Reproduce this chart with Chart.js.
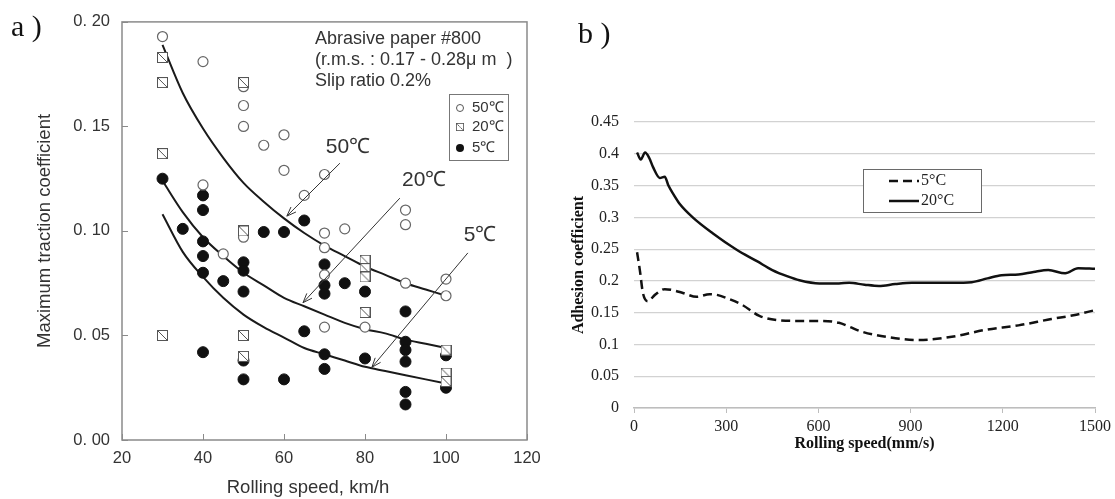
<!DOCTYPE html>
<html>
<head>
<meta charset="utf-8">
<title>Traction and adhesion vs rolling speed</title>
<script src="https://cdn.jsdelivr.net/npm/chart.js@4.4.0/dist/chart.umd.min.js"></script>
<style>
  html, body { margin: 0; padding: 0; background: #fff; }
  #wrap { position: relative; width: 1115px; height: 499px; overflow: hidden; }
  #chartA { position: absolute; left: 0; top: 0; }
  #chartB { position: absolute; left: 557px; top: 0; }
</style>
</head>
<body>
<div id="wrap">
  <canvas id="chartA" width="557" height="499"></canvas>
  <canvas id="chartB" width="558" height="499"></canvas>
</div>
<script>
// ---- panel a: measured maximum traction coefficient (km/h) ----
const A_X_TICKS = [20, 40, 60, 80, 100, 120];
const A_Y_TICKS = [0, 0.05, 0.1, 0.15, 0.2];

const T50_SPEED = [30, 40, 40, 45, 50, 50, 50, 50, 55, 60, 60, 65, 70, 70, 70, 70, 70, 75, 80, 90, 90, 90, 100, 100];
const T50_COEF  = [0.193, 0.181, 0.122, 0.089, 0.169, 0.160, 0.150, 0.097, 0.141, 0.146, 0.129, 0.117, 0.127, 0.099, 0.092, 0.079, 0.054, 0.101, 0.054, 0.110, 0.103, 0.075, 0.077, 0.069];

const T20_SPEED = [30, 30, 30, 30, 50, 50, 50, 50, 80, 80, 80, 80, 100, 100, 100];
const T20_COEF  = [0.183, 0.171, 0.137, 0.050, 0.171, 0.100, 0.050, 0.040, 0.086, 0.082, 0.078, 0.061, 0.043, 0.032, 0.028];

const T5_SPEED = [30, 35, 40, 40, 40, 40, 40, 40, 45, 50, 50, 50, 50, 50, 55, 60, 60, 65, 65, 70, 70, 70, 70, 70, 75, 80, 80, 90, 90, 90, 90, 90, 90, 100, 100];
const T5_COEF  = [0.125, 0.101, 0.117, 0.110, 0.095, 0.088, 0.080, 0.042, 0.076, 0.085, 0.081, 0.071, 0.038, 0.029, 0.0995, 0.0995, 0.029, 0.105, 0.052, 0.084, 0.074, 0.070, 0.041, 0.034, 0.075, 0.071, 0.039, 0.0615, 0.047, 0.043, 0.0375, 0.023, 0.017, 0.0405, 0.025];

// fitted trend curves
const FIT_SPEED = [30, 35, 40, 45, 50, 55, 60, 65, 70, 75, 80, 85, 90, 95, 100];
const FIT_50C = [0.189, 0.166, 0.149, 0.135, 0.123, 0.114, 0.106, 0.099, 0.093, 0.088, 0.083, 0.079, 0.075, 0.072, 0.069];
const FIT_20C = [0.124, 0.109, 0.097, 0.088, 0.080, 0.074, 0.068, 0.064, 0.060, 0.056, 0.053, 0.051, 0.048, 0.046, 0.044];
const FIT_5C  = [0.108, 0.090, 0.078, 0.068, 0.060, 0.054, 0.049, 0.044, 0.041, 0.038, 0.035, 0.033, 0.031, 0.029, 0.027];

// curve call-outs: label anchor, arrow tail, arrow head (data units)
const CALLOUT_TEXT = ['50\u2103', '20\u2103', '5\u2103'];
const CALLOUT_LABEL = [[75.8, 0.140], [94.6, 0.1243], [108.4, 0.098]];
const CALLOUT_TAIL  = [[73.8, 0.1324], [88.6, 0.1157], [105.4, 0.0895]];
const CALLOUT_HEAD  = [[60.7, 0.1071], [64.7, 0.0657], [81.7, 0.0348]];

const A_NOTE = ['Abrasive paper #800', '(r.m.s. : 0.17 - 0.28\u03bc m  )', 'Slip ratio 0.2%'];
const A_LEGEND = ['50\u2103', '20\u2103', '5\u2103'];

// ---- panel b: adhesion coefficient (mm/s) ----
const B_X_TICKS = [0, 300, 600, 900, 1200, 1500];
const B_Y_TICKS = [0, 0.05, 0.1, 0.15, 0.2, 0.25, 0.3, 0.35, 0.4, 0.45];

const A20_SPEED = [10, 22, 36, 50, 62, 84, 100, 112, 130, 149, 191, 256, 334, 400, 450, 500, 538, 603, 667, 700, 750, 797, 850, 904, 970, 1034, 1099, 1150, 1196, 1251, 1300, 1348, 1403, 1445, 1500];
const A20_COEF  = [0.402, 0.391, 0.402, 0.393, 0.379, 0.362, 0.364, 0.350, 0.335, 0.321, 0.300, 0.275, 0.249, 0.231, 0.217, 0.207, 0.201, 0.196, 0.196, 0.197, 0.194, 0.192, 0.195, 0.197, 0.197, 0.197, 0.198, 0.204, 0.209, 0.210, 0.214, 0.217, 0.212, 0.220, 0.219];

const A5_SPEED = [10, 19, 29, 45, 68, 100, 130, 159, 204, 246, 270, 301, 353, 408, 473, 538, 603, 667, 700, 742, 820, 927, 1034, 1144, 1251, 1358, 1430, 1500];
const A5_COEF  = [0.245, 0.217, 0.181, 0.168, 0.178, 0.187, 0.185, 0.181, 0.175, 0.179, 0.178, 0.173, 0.162, 0.145, 0.138, 0.137, 0.137, 0.134, 0.128, 0.120, 0.112, 0.107, 0.112, 0.123, 0.130, 0.140, 0.146, 0.154];

const B_LEGEND = ['5\u00b0C', '20\u00b0C'];

const SANS = '"Liberation Sans", Arial, Helvetica, sans-serif';
const SERIF = '"Liberation Serif", "Times New Roman", serif';

function toPoints(xs, ys) {
  return xs.map((x, i) => ({ x, y: ys[i] }));
}

function hatchedSquare() {
  const c = document.createElement('canvas');
  c.width = 11;
  c.height = 11;
  const g = c.getContext('2d');
  g.fillStyle = '#fff';
  g.fillRect(0, 0, 11, 11);
  g.strokeStyle = '#555';
  g.lineWidth = 1;
  g.strokeRect(0.5, 0.5, 10, 10);
  g.beginPath();
  g.moveTo(1, 1);
  g.lineTo(10, 10);
  g.stroke();
  return c;
}

function arrow(ctx, x1, y1, x2, y2) {
  ctx.beginPath();
  ctx.moveTo(x1, y1);
  ctx.lineTo(x2, y2);
  ctx.stroke();
  const ang = Math.atan2(y2 - y1, x2 - x1);
  const len = 10, spread = 0.36;
  ctx.beginPath();
  ctx.moveTo(x2 - len * Math.cos(ang - spread), y2 - len * Math.sin(ang - spread));
  ctx.lineTo(x2, y2);
  ctx.lineTo(x2 - len * Math.cos(ang + spread), y2 - len * Math.sin(ang + spread));
  ctx.stroke();
}

const squareImg = hatchedSquare();

// frame, inward ticks, call-outs, notes and legend for panel a
const panelADecor = {
  id: 'panelADecor',
  afterDraw(chart) {
    const { ctx, chartArea: ca, scales } = chart;
    const xs = scales.x, ys = scales.y;
    ctx.save();

    ctx.strokeStyle = '#8a8a8a';
    ctx.lineWidth = 1.5;
    ctx.strokeRect(ca.left, ca.top, ca.right - ca.left, ca.bottom - ca.top);
    ctx.lineWidth = 1;
    A_X_TICKS.forEach((v) => {
      const px = Math.round(xs.getPixelForValue(v)) + 0.5;
      ctx.beginPath(); ctx.moveTo(px, ca.bottom); ctx.lineTo(px, ca.bottom - 6); ctx.stroke();
    });
    A_Y_TICKS.forEach((v) => {
      const py = Math.round(ys.getPixelForValue(v)) + 0.5;
      ctx.beginPath(); ctx.moveTo(ca.left, py); ctx.lineTo(ca.left + 6, py); ctx.stroke();
    });

    ctx.strokeStyle = '#333';
    ctx.lineWidth = 1;
    CALLOUT_TAIL.forEach((t, i) => {
      const h = CALLOUT_HEAD[i];
      arrow(ctx, xs.getPixelForValue(t[0]), ys.getPixelForValue(t[1]),
        xs.getPixelForValue(h[0]), ys.getPixelForValue(h[1]));
    });
    ctx.fillStyle = '#333';
    ctx.font = '21px ' + SANS;
    ctx.textAlign = 'center';
    ctx.textBaseline = 'middle';
    CALLOUT_LABEL.forEach((p, i) => {
      ctx.fillText(CALLOUT_TEXT[i], xs.getPixelForValue(p[0]), ys.getPixelForValue(p[1]));
    });

    ctx.textAlign = 'left';
    ctx.font = '18px ' + SANS;
    A_NOTE.forEach((line, i) => ctx.fillText(line, 315, 39 + i * 21));

    // legend
    ctx.strokeStyle = '#777';
    ctx.lineWidth = 1;
    ctx.strokeRect(449.5, 94.5, 59, 66);
    ctx.font = '15px ' + SANS;
    const rows = [108, 127, 148];
    A_LEGEND.forEach((t, i) => ctx.fillText(t, 472, rows[i]));
    ctx.lineWidth = 1;
    ctx.strokeStyle = '#555';
    ctx.fillStyle = '#fff';
    ctx.beginPath(); ctx.arc(460, rows[0], 3.5, 0, Math.PI * 2); ctx.fill(); ctx.stroke();
    ctx.drawImage(squareImg, 0, 0, 11, 11, 456, rows[1] - 4, 8, 8);
    ctx.fillStyle = '#111';
    ctx.beginPath(); ctx.arc(460, rows[2], 4, 0, Math.PI * 2); ctx.fill();

    // x-axis title and panel letter
    ctx.fillStyle = '#333';
    ctx.font = '18.5px ' + SANS;
    ctx.textAlign = 'center';
    ctx.fillText('Rolling speed, km/h', 308, 488);
    ctx.fillStyle = '#111';
    ctx.font = '30px ' + SERIF;
    ctx.textAlign = 'left';
    ctx.fillText('a )', 11, 28);
    ctx.restore();
  },
};

new Chart(document.getElementById('chartA'), {
  type: 'scatter',
  data: {
    datasets: [
      {
        data: toPoints(T20_SPEED, T20_COEF),
        pointStyle: squareImg,
        order: 0,
      },
      {
        data: toPoints(T50_SPEED, T50_COEF),
        pointStyle: 'circle',
        pointRadius: 5,
        backgroundColor: '#fff',
        borderColor: '#666',
        borderWidth: 1.2,
        order: 1,
      },
      {
        data: toPoints(T5_SPEED, T5_COEF),
        pointStyle: 'circle',
        pointRadius: 5.5,
        backgroundColor: '#111',
        borderColor: '#111',
        borderWidth: 1,
        order: 2,
      },
      ...[FIT_50C, FIT_20C, FIT_5C].map((ys) => ({
        data: toPoints(FIT_SPEED, ys),
        showLine: true,
        pointRadius: 0,
        borderColor: '#1a1a1a',
        borderWidth: 2,
        cubicInterpolationMode: 'monotone',
        order: 3,
      })),
    ],
  },
  options: {
    responsive: false,
    animation: false,
    events: [],
    layout: { padding: { left: 0, right: 30, top: 20, bottom: 0 } },
    plugins: { legend: { display: false }, tooltip: { enabled: false } },
    scales: {
      x: {
        type: 'linear',
        min: 20,
        max: 120,
        afterBuildTicks: (s) => { s.ticks = A_X_TICKS.map((v) => ({ value: v })); },
        afterFit: (s) => { s.height = 59; },
        grid: { display: false, drawTicks: false },
        border: { display: false },
        ticks: { color: '#333', font: { family: SANS, size: 16.5 }, padding: 9, maxRotation: 0 },
      },
      y: {
        type: 'linear',
        min: 0,
        max: 0.2,
        afterBuildTicks: (s) => { s.ticks = A_Y_TICKS.map((v) => ({ value: v })); },
        afterFit: (s) => { s.width = 122; },
        grid: { display: false, drawTicks: false },
        border: { display: false },
        ticks: {
          color: '#333',
          font: { family: SANS, size: 16.5 },
          padding: 12,
          callback: (v) => Number(v).toFixed(2).replace('.', '. '),
        },
        title: {
          display: true,
          text: 'Maximum traction coefficient',
          color: '#333',
          font: { family: SANS, size: 18.5 },
          padding: { top: 34, bottom: 0 },
        },
      },
    },
  },
  plugins: [panelADecor],
});

// in-plot legend and panel letter for panel b
const panelBDecor = {
  id: 'panelBDecor',
  afterDraw(chart) {
    const { ctx } = chart;
    ctx.save();
    ctx.strokeStyle = '#6a6a6a';
    ctx.lineWidth = 1;
    ctx.fillStyle = '#fff';
    ctx.fillRect(306, 169, 118, 43);
    ctx.strokeRect(306.5, 169.5, 118, 43);
    const rows = [181, 201];
    chart.data.datasets.forEach((ds, i) => {
      ctx.strokeStyle = '#111';
      ctx.lineWidth = 2.5;
      ctx.setLineDash(ds.borderDash || []);
      ctx.beginPath();
      ctx.moveTo(332, rows[i]);
      ctx.lineTo(362, rows[i]);
      ctx.stroke();
    });
    ctx.setLineDash([]);
    ctx.fillStyle = '#222';
    ctx.font = '16px ' + SERIF;
    ctx.textAlign = 'left';
    ctx.textBaseline = 'middle';
    B_LEGEND.forEach((t, i) => ctx.fillText(t, 364, rows[i]));
    ctx.fillStyle = '#111';
    ctx.font = '30px ' + SERIF;
    ctx.fillText('b )', 21, 35);
    ctx.restore();
  },
};

new Chart(document.getElementById('chartB'), {
  type: 'scatter',
  data: {
    datasets: [
      {
        label: B_LEGEND[0],
        data: toPoints(A5_SPEED, A5_COEF),
        showLine: true,
        pointRadius: 0,
        borderColor: '#111',
        borderWidth: 2.5,
        borderDash: [9, 5],
        cubicInterpolationMode: 'monotone',
      },
      {
        label: B_LEGEND[1],
        data: toPoints(A20_SPEED, A20_COEF),
        showLine: true,
        pointRadius: 0,
        borderColor: '#111',
        borderWidth: 2.5,
        cubicInterpolationMode: 'monotone',
      },
    ],
  },
  options: {
    responsive: false,
    animation: false,
    events: [],
    layout: { padding: { left: 0, right: 18, top: 122, bottom: 0 } },
    plugins: { legend: { display: false }, tooltip: { enabled: false } },
    scales: {
      x: {
        type: 'linear',
        min: 0,
        max: 1500,
        afterBuildTicks: (s) => { s.ticks = B_X_TICKS.map((v) => ({ value: v })); },
        afterFit: (s) => { s.height = 91; },
        grid: { display: true, drawOnChartArea: false, drawTicks: true, tickLength: 5, color: '#bdbdbd' },
        border: { display: true, color: '#bdbdbd', width: 1.5 },
        ticks: {
          color: '#222',
          font: { family: SERIF, size: 16 },
          padding: 4,
          maxRotation: 0,
          callback: (v) => String(v),
        },
        title: {
          display: true,
          text: 'Rolling speed(mm/s)',
          color: '#111',
          font: { family: SERIF, size: 16, weight: 'bold' },
          padding: { top: 0, bottom: 46 },
        },
      },
      y: {
        type: 'linear',
        min: 0,
        max: 0.45,
        afterBuildTicks: (s) => { s.ticks = B_Y_TICKS.map((v) => ({ value: v })); },
        afterFit: (s) => { s.width = 77; },
        grid: { display: true, drawTicks: false, color: '#d2d2d2', lineWidth: 1.2 },
        border: { display: false },
        ticks: {
          color: '#222',
          font: { family: SERIF, size: 16 },
          padding: 15,
          callback: (v) => String(Number(Number(v).toFixed(2))),
        },
        title: {
          display: true,
          text: 'Adhesion coefficient',
          color: '#111',
          font: { family: SERIF, size: 16, weight: 'bold' },
          padding: { top: 12, bottom: 0 },
        },
      },
    },
  },
  plugins: [panelBDecor],
});
</script>
</body>
</html>
